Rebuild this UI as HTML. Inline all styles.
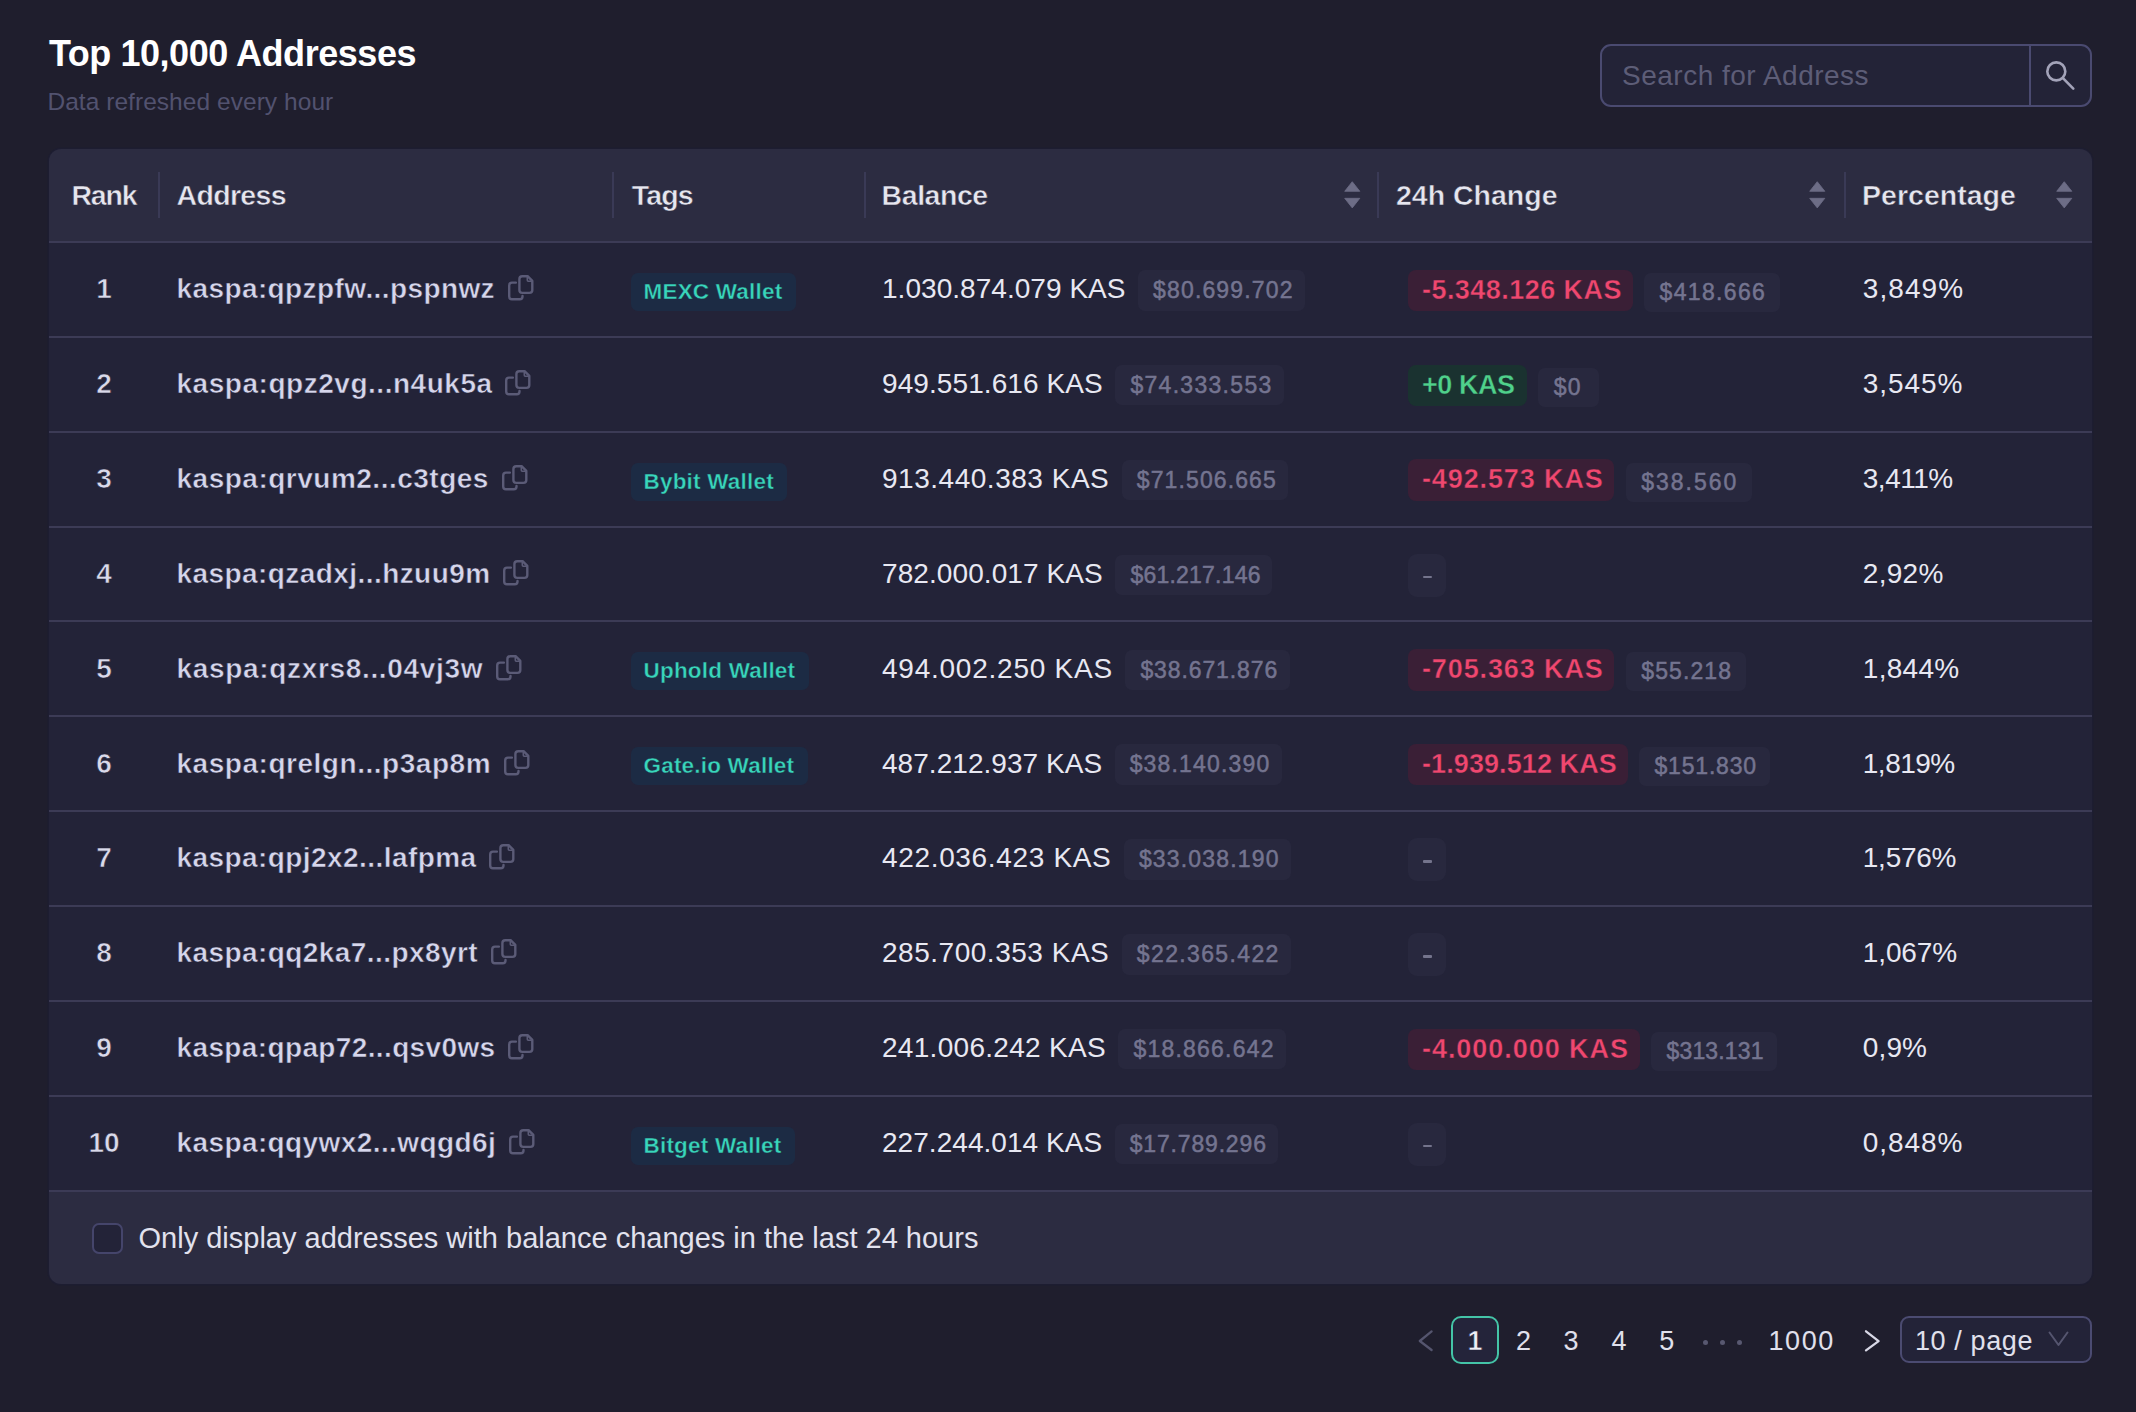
<!DOCTYPE html>
<html><head><meta charset="utf-8"><title>Top 10,000 Addresses</title><style>
*{margin:0;padding:0;box-sizing:border-box}
html,body{width:2136px;height:1412px;overflow:hidden;background:#1f1e2d;font-family:"Liberation Sans",sans-serif}
.t,.abs{position:absolute;white-space:nowrap}
.c{text-align:center}
.search{position:absolute;left:1599.5px;top:43.5px;width:492px;height:63px;border:2px solid #4a4a70;border-radius:11px;background:#232337}
.sdiv{position:absolute;left:427.5px;top:0;width:2px;height:100%;background:#4a4a70}
.tbl{position:absolute;left:49px;top:149px;width:2042.5px;height:1134.5px;border-radius:12px;background:#2c2c41;box-shadow:0 0 0 1.5px #1d1d31}
.tbody{position:absolute;left:49px;top:243px;width:2042.5px;height:947px;background:#232338}
.vsep{position:absolute;top:172px;height:46px;width:2px;background:#3a3a56}
.hsep{position:absolute;left:49px;width:2042.5px;height:2px;background:#3c3b56}
.cp{position:absolute;left:calc(100% + 11.6px);top:-1px;width:28px;height:28px}
.cp svg{display:block}
.tag{position:absolute;left:631px;height:38px;padding:0 13.5px 0 12.5px;border-radius:7px;background:#1c2b44;color:#38d6bb;font-size:22.5px;line-height:38px;font-weight:700;letter-spacing:0.2px;white-space:nowrap;-webkit-text-stroke:0.4px #1c2b44}
.usd{position:absolute;left:calc(100% + 12.5px);top:-5.2px;height:40.5px;line-height:40.5px;padding:0 11.5px 0 15px;border-radius:7px;background:#28283e;color:#74748f;font-size:23px;font-weight:400;letter-spacing:1.15px;white-space:nowrap;-webkit-text-stroke:0.5px #757592}
.chg{position:absolute;left:1408px;height:41.5px;line-height:41.5px;padding:0 10.8px 0 14px;border-radius:8px;font-size:27px;font-weight:700;letter-spacing:0.45px;white-space:nowrap}
.neg{background:#3a1f36;color:#f0476f;-webkit-text-stroke:0.4px #3a1f36}
.pos{background:#1a3230;color:#4fd18b;-webkit-text-stroke:0.4px #1a3230;letter-spacing:-0.45px;padding-right:12.4px}
.dash{background:#28283e;width:38px;padding:0;height:42.8px;border-radius:9px}
.dash i{position:absolute;left:14.8px;top:21.8px;width:9.2px;height:2.7px;border-radius:1px;background:#74748c}
.usd2{position:absolute;left:calc(100% + 11.3px);top:3.3px;height:39px;line-height:39px;padding:0 13.5px 0 15.5px;border-radius:7px;background:#28283e;color:#74748f;font-size:23px;font-weight:400;letter-spacing:1.2px;-webkit-text-stroke:0.5px #757592}
.cbox{position:absolute;left:91.5px;top:1222.5px;width:31px;height:31px;border:2px solid #45456b;border-radius:7px;background:#232338}
.pg1{position:absolute;left:1450.8px;top:1315.8px;width:48.2px;height:48.4px;border:2px solid #44c4a7;border-radius:10px;background:#24243a}
.sel{position:absolute;left:1900.3px;top:1316.3px;width:191.3px;height:47.2px;border:2px solid #4b4b71;border-radius:9px;background:#232338}
</style></head>
<body>
<div class="t" style="left:48.9px;top:35.52px;font-size:36px;line-height:36px;color:#ffffff;font-weight:700;letter-spacing:-0.45px;">Top 10,000 Addresses</div>
<div class="t" style="left:47.4px;top:90.26px;font-size:24.5px;line-height:24.5px;color:#52526f;font-weight:400;letter-spacing:0.05px;">Data refreshed every hour</div>
<div class="search"><div class="sdiv"></div></div>
<div class="t" style="left:1622.0px;top:62.29px;font-size:28px;line-height:28px;color:#5d5d77;font-weight:400;letter-spacing:0.5px;">Search for Address</div>
<svg class="abs" style="left:2040px;top:56px" width="40" height="40" viewBox="2040 56 40 40">
<circle cx="2056.3" cy="71.4" r="9" fill="none" stroke="#a3a3b9" stroke-width="2.6"/>
<line x1="2063.2" y1="78.3" x2="2073.3" y2="88.6" stroke="#a3a3b9" stroke-width="2.6" stroke-linecap="round"/>
</svg>
<div class="tbl"></div>
<div class="tbody"></div>
<div class="hsep" style="top:241px"></div>
<div class="t" style="left:71.4px;top:180.87px;font-size:28.5px;line-height:28.5px;color:#e6e6ef;font-weight:700;letter-spacing:-1.2px;-webkit-text-stroke:0.5px #2c2c41">Rank</div>
<div class="t" style="left:176.5px;top:180.87px;font-size:28.5px;line-height:28.5px;color:#e6e6ef;font-weight:700;letter-spacing:-0.66px;-webkit-text-stroke:0.5px #2c2c41">Address</div>
<div class="t" style="left:631.8px;top:180.87px;font-size:28.5px;line-height:28.5px;color:#e6e6ef;font-weight:700;letter-spacing:-0.87px;-webkit-text-stroke:0.5px #2c2c41">Tags</div>
<div class="t" style="left:881.6px;top:180.87px;font-size:28.5px;line-height:28.5px;color:#e6e6ef;font-weight:700;letter-spacing:-0.45px;-webkit-text-stroke:0.5px #2c2c41">Balance</div>
<div class="t" style="left:1396.0px;top:180.87px;font-size:28.5px;line-height:28.5px;color:#e6e6ef;font-weight:700;letter-spacing:0px;-webkit-text-stroke:0.5px #2c2c41">24h Change</div>
<div class="t" style="left:1862.1px;top:180.87px;font-size:28.5px;line-height:28.5px;color:#e6e6ef;font-weight:700;letter-spacing:0px;-webkit-text-stroke:0.5px #2c2c41">Percentage</div>
<div class="vsep" style="left:158.0px"></div>
<div class="vsep" style="left:612.0px"></div>
<div class="vsep" style="left:864.0px"></div>
<div class="vsep" style="left:1377.0px"></div>
<div class="vsep" style="left:1843.5px"></div>
<svg class="abs" style="left:1343.8px;top:180px" width="18" height="30" viewBox="0 0 18 30"><path d="M8.25 1.7 L15.8 11.3 L0.7 11.3 Z" fill="#6d6d86" stroke="#6d6d86" stroke-width="0.8" stroke-linejoin="round"/><path d="M0.7 18.3 L15.8 18.3 L8.25 27.9 Z" fill="#6d6d86" stroke="#6d6d86" stroke-width="0.8" stroke-linejoin="round"/></svg>
<svg class="abs" style="left:1809.3px;top:180px" width="18" height="30" viewBox="0 0 18 30"><path d="M8.25 1.7 L15.8 11.3 L0.7 11.3 Z" fill="#6d6d86" stroke="#6d6d86" stroke-width="0.8" stroke-linejoin="round"/><path d="M0.7 18.3 L15.8 18.3 L8.25 27.9 Z" fill="#6d6d86" stroke="#6d6d86" stroke-width="0.8" stroke-linejoin="round"/></svg>
<svg class="abs" style="left:2056.0px;top:180px" width="18" height="30" viewBox="0 0 18 30"><path d="M8.25 1.7 L15.8 11.3 L0.7 11.3 Z" fill="#6d6d86" stroke="#6d6d86" stroke-width="0.8" stroke-linejoin="round"/><path d="M0.7 18.3 L15.8 18.3 L8.25 27.9 Z" fill="#6d6d86" stroke="#6d6d86" stroke-width="0.8" stroke-linejoin="round"/></svg>
<div class="hsep" style="top:335.85px"></div>
<div class="t c" style="left:64px;width:80px;top:275.29px;font-size:28px;line-height:28px;color:#d9d9ea;font-weight:700;-webkit-text-stroke:0.6px #232338">1</div>
<div class="t" style="left:176.5px;top:275.29px;font-size:28px;line-height:28px;color:#d6d6ec;font-weight:700;-webkit-text-stroke:0.5px #232338;letter-spacing:0.40px">kaspa:qpzpfw...pspnwz<span class="cp"><svg width="28" height="28" viewBox="0 0 28 28" fill="none" stroke="#5b5b77" stroke-width="2.4" stroke-linejoin="round" stroke-linecap="round">
<path d="M8.9 8.6 H5 Q2.2 8.6 2.2 11.4 V22.5 Q2.2 25.3 5 25.3 H12.7 Q15.5 25.3 15.5 22.5 V21.9"/>
<path d="M15.2 2.2 H20.6 L25.3 6.9 V16.1 Q25.3 18.9 22.5 18.9 H15.2 Q12.4 18.9 12.4 16.1 V5 Q12.4 2.2 15.2 2.2 Z"/>
<path d="M20.3 2.6 V6.3 Q20.3 7.2 21.2 7.2 H24.9" stroke-width="1.6"/>
</svg></span></div>
<div class="tag" style="top:273.00px">MEXC Wallet</div>
<div class="t" style="left:882px;top:275.29px;font-size:28px;line-height:28px;color:#e8e8f2;letter-spacing:0.04px">1.030.874.079 KAS<span class="usd" style="letter-spacing:1.15px">$80.699.702</span></div>
<div class="chg neg" style="top:269.70px;letter-spacing:0.45px;">-5.348.126 KAS<span class="usd2" style="letter-spacing:1.35px">$418.666</span></div>
<div class="t" style="left:1862.8px;top:275.29px;font-size:28px;line-height:28px;color:#e8e8f2;font-weight:400;letter-spacing:1.08px;">3,849%</div>
<div class="hsep" style="top:430.70px"></div>
<div class="t c" style="left:64px;width:80px;top:370.14px;font-size:28px;line-height:28px;color:#d9d9ea;font-weight:700;-webkit-text-stroke:0.6px #232338">2</div>
<div class="t" style="left:176.5px;top:370.14px;font-size:28px;line-height:28px;color:#d6d6ec;font-weight:700;-webkit-text-stroke:0.5px #232338;letter-spacing:0.53px">kaspa:qpz2vg...n4uk5a<span class="cp"><svg width="28" height="28" viewBox="0 0 28 28" fill="none" stroke="#5b5b77" stroke-width="2.4" stroke-linejoin="round" stroke-linecap="round">
<path d="M8.9 8.6 H5 Q2.2 8.6 2.2 11.4 V22.5 Q2.2 25.3 5 25.3 H12.7 Q15.5 25.3 15.5 22.5 V21.9"/>
<path d="M15.2 2.2 H20.6 L25.3 6.9 V16.1 Q25.3 18.9 22.5 18.9 H15.2 Q12.4 18.9 12.4 16.1 V5 Q12.4 2.2 15.2 2.2 Z"/>
<path d="M20.3 2.6 V6.3 Q20.3 7.2 21.2 7.2 H24.9" stroke-width="1.6"/>
</svg></span></div>
<div class="t" style="left:882px;top:370.14px;font-size:28px;line-height:28px;color:#e8e8f2;letter-spacing:0.09px">949.551.616 KAS<span class="usd" style="letter-spacing:1.30px">$74.333.553</span></div>
<div class="chg pos" style="top:364.55px;">+0 KAS<span class="usd2" style="padding-right:17px">$0</span></div>
<div class="t" style="left:1862.8px;top:370.14px;font-size:28px;line-height:28px;color:#e8e8f2;font-weight:400;letter-spacing:0.94px;">3,545%</div>
<div class="hsep" style="top:525.55px"></div>
<div class="t c" style="left:64px;width:80px;top:464.99px;font-size:28px;line-height:28px;color:#d9d9ea;font-weight:700;-webkit-text-stroke:0.6px #232338">3</div>
<div class="t" style="left:176.5px;top:464.99px;font-size:28px;line-height:28px;color:#d6d6ec;font-weight:700;-webkit-text-stroke:0.5px #232338;letter-spacing:0.50px">kaspa:qrvum2...c3tges<span class="cp"><svg width="28" height="28" viewBox="0 0 28 28" fill="none" stroke="#5b5b77" stroke-width="2.4" stroke-linejoin="round" stroke-linecap="round">
<path d="M8.9 8.6 H5 Q2.2 8.6 2.2 11.4 V22.5 Q2.2 25.3 5 25.3 H12.7 Q15.5 25.3 15.5 22.5 V21.9"/>
<path d="M15.2 2.2 H20.6 L25.3 6.9 V16.1 Q25.3 18.9 22.5 18.9 H15.2 Q12.4 18.9 12.4 16.1 V5 Q12.4 2.2 15.2 2.2 Z"/>
<path d="M20.3 2.6 V6.3 Q20.3 7.2 21.2 7.2 H24.9" stroke-width="1.6"/>
</svg></span></div>
<div class="tag" style="top:462.70px">Bybit Wallet</div>
<div class="t" style="left:882px;top:464.99px;font-size:28px;line-height:28px;color:#e8e8f2;letter-spacing:0.52px">913.440.383 KAS<span class="usd" style="letter-spacing:1.10px">$71.506.665</span></div>
<div class="chg neg" style="top:459.40px;letter-spacing:0.88px;">-492.573 KAS<span class="usd2" style="letter-spacing:1.98px">$38.560</span></div>
<div class="t" style="left:1862.8px;top:464.99px;font-size:28px;line-height:28px;color:#e8e8f2;font-weight:400;letter-spacing:-0.5px;">3,411%</div>
<div class="hsep" style="top:620.40px"></div>
<div class="t c" style="left:64px;width:80px;top:559.84px;font-size:28px;line-height:28px;color:#d9d9ea;font-weight:700;-webkit-text-stroke:0.6px #232338">4</div>
<div class="t" style="left:176.5px;top:559.84px;font-size:28px;line-height:28px;color:#d6d6ec;font-weight:700;-webkit-text-stroke:0.5px #232338;letter-spacing:0.43px">kaspa:qzadxj...hzuu9m<span class="cp"><svg width="28" height="28" viewBox="0 0 28 28" fill="none" stroke="#5b5b77" stroke-width="2.4" stroke-linejoin="round" stroke-linecap="round">
<path d="M8.9 8.6 H5 Q2.2 8.6 2.2 11.4 V22.5 Q2.2 25.3 5 25.3 H12.7 Q15.5 25.3 15.5 22.5 V21.9"/>
<path d="M15.2 2.2 H20.6 L25.3 6.9 V16.1 Q25.3 18.9 22.5 18.9 H15.2 Q12.4 18.9 12.4 16.1 V5 Q12.4 2.2 15.2 2.2 Z"/>
<path d="M20.3 2.6 V6.3 Q20.3 7.2 21.2 7.2 H24.9" stroke-width="1.6"/>
</svg></span></div>
<div class="t" style="left:882px;top:559.84px;font-size:28px;line-height:28px;color:#e8e8f2;letter-spacing:0.09px">782.000.017 KAS<span class="usd" style="letter-spacing:0.22px">$61.217.146</span></div>
<div class="chg dash" style="top:553.85px"><i></i></div>
<div class="t" style="left:1862.8px;top:559.84px;font-size:28px;line-height:28px;color:#e8e8f2;font-weight:400;letter-spacing:0.3px;">2,92%</div>
<div class="hsep" style="top:715.25px"></div>
<div class="t c" style="left:64px;width:80px;top:654.69px;font-size:28px;line-height:28px;color:#d9d9ea;font-weight:700;-webkit-text-stroke:0.6px #232338">5</div>
<div class="t" style="left:176.5px;top:654.69px;font-size:28px;line-height:28px;color:#d6d6ec;font-weight:700;-webkit-text-stroke:0.5px #232338;letter-spacing:0.67px">kaspa:qzxrs8...04vj3w<span class="cp"><svg width="28" height="28" viewBox="0 0 28 28" fill="none" stroke="#5b5b77" stroke-width="2.4" stroke-linejoin="round" stroke-linecap="round">
<path d="M8.9 8.6 H5 Q2.2 8.6 2.2 11.4 V22.5 Q2.2 25.3 5 25.3 H12.7 Q15.5 25.3 15.5 22.5 V21.9"/>
<path d="M15.2 2.2 H20.6 L25.3 6.9 V16.1 Q25.3 18.9 22.5 18.9 H15.2 Q12.4 18.9 12.4 16.1 V5 Q12.4 2.2 15.2 2.2 Z"/>
<path d="M20.3 2.6 V6.3 Q20.3 7.2 21.2 7.2 H24.9" stroke-width="1.6"/>
</svg></span></div>
<div class="tag" style="top:652.40px">Uphold Wallet</div>
<div class="t" style="left:882px;top:654.69px;font-size:28px;line-height:28px;color:#e8e8f2;letter-spacing:0.76px">494.002.250 KAS<span class="usd" style="letter-spacing:0.89px">$38.671.876</span></div>
<div class="chg neg" style="top:649.10px;letter-spacing:0.88px;">-705.363 KAS<span class="usd2" style="letter-spacing:1.10px">$55.218</span></div>
<div class="t" style="left:1862.8px;top:654.69px;font-size:28px;line-height:28px;color:#e8e8f2;font-weight:400;letter-spacing:0.28px;">1,844%</div>
<div class="hsep" style="top:810.10px"></div>
<div class="t c" style="left:64px;width:80px;top:749.54px;font-size:28px;line-height:28px;color:#d9d9ea;font-weight:700;-webkit-text-stroke:0.6px #232338">6</div>
<div class="t" style="left:176.5px;top:749.54px;font-size:28px;line-height:28px;color:#d6d6ec;font-weight:700;-webkit-text-stroke:0.5px #232338;letter-spacing:0.53px">kaspa:qrelgn...p3ap8m<span class="cp"><svg width="28" height="28" viewBox="0 0 28 28" fill="none" stroke="#5b5b77" stroke-width="2.4" stroke-linejoin="round" stroke-linecap="round">
<path d="M8.9 8.6 H5 Q2.2 8.6 2.2 11.4 V22.5 Q2.2 25.3 5 25.3 H12.7 Q15.5 25.3 15.5 22.5 V21.9"/>
<path d="M15.2 2.2 H20.6 L25.3 6.9 V16.1 Q25.3 18.9 22.5 18.9 H15.2 Q12.4 18.9 12.4 16.1 V5 Q12.4 2.2 15.2 2.2 Z"/>
<path d="M20.3 2.6 V6.3 Q20.3 7.2 21.2 7.2 H24.9" stroke-width="1.6"/>
</svg></span></div>
<div class="tag" style="top:747.25px">Gate.io Wallet</div>
<div class="t" style="left:882px;top:749.54px;font-size:28px;line-height:28px;color:#e8e8f2;letter-spacing:0.04px">487.212.937 KAS<span class="usd" style="letter-spacing:1.17px">$38.140.390</span></div>
<div class="chg neg" style="top:743.95px;letter-spacing:0.09px;">-1.939.512 KAS<span class="usd2" style="letter-spacing:0.82px">$151.830</span></div>
<div class="t" style="left:1862.8px;top:749.54px;font-size:28px;line-height:28px;color:#e8e8f2;font-weight:400;letter-spacing:-0.5px;">1,819%</div>
<div class="hsep" style="top:904.95px"></div>
<div class="t c" style="left:64px;width:80px;top:844.39px;font-size:28px;line-height:28px;color:#d9d9ea;font-weight:700;-webkit-text-stroke:0.6px #232338">7</div>
<div class="t" style="left:176.5px;top:844.39px;font-size:28px;line-height:28px;color:#d6d6ec;font-weight:700;-webkit-text-stroke:0.5px #232338;letter-spacing:0.43px">kaspa:qpj2x2...lafpma<span class="cp"><svg width="28" height="28" viewBox="0 0 28 28" fill="none" stroke="#5b5b77" stroke-width="2.4" stroke-linejoin="round" stroke-linecap="round">
<path d="M8.9 8.6 H5 Q2.2 8.6 2.2 11.4 V22.5 Q2.2 25.3 5 25.3 H12.7 Q15.5 25.3 15.5 22.5 V21.9"/>
<path d="M15.2 2.2 H20.6 L25.3 6.9 V16.1 Q25.3 18.9 22.5 18.9 H15.2 Q12.4 18.9 12.4 16.1 V5 Q12.4 2.2 15.2 2.2 Z"/>
<path d="M20.3 2.6 V6.3 Q20.3 7.2 21.2 7.2 H24.9" stroke-width="1.6"/>
</svg></span></div>
<div class="t" style="left:882px;top:844.39px;font-size:28px;line-height:28px;color:#e8e8f2;letter-spacing:0.66px">422.036.423 KAS<span class="usd" style="letter-spacing:1.16px">$33.038.190</span></div>
<div class="chg dash" style="top:838.40px"><i></i></div>
<div class="t" style="left:1862.8px;top:844.39px;font-size:28px;line-height:28px;color:#e8e8f2;font-weight:400;letter-spacing:-0.26px;">1,576%</div>
<div class="hsep" style="top:999.80px"></div>
<div class="t c" style="left:64px;width:80px;top:939.24px;font-size:28px;line-height:28px;color:#d9d9ea;font-weight:700;-webkit-text-stroke:0.6px #232338">8</div>
<div class="t" style="left:176.5px;top:939.24px;font-size:28px;line-height:28px;color:#d6d6ec;font-weight:700;-webkit-text-stroke:0.5px #232338;letter-spacing:0.43px">kaspa:qq2ka7...px8yrt<span class="cp"><svg width="28" height="28" viewBox="0 0 28 28" fill="none" stroke="#5b5b77" stroke-width="2.4" stroke-linejoin="round" stroke-linecap="round">
<path d="M8.9 8.6 H5 Q2.2 8.6 2.2 11.4 V22.5 Q2.2 25.3 5 25.3 H12.7 Q15.5 25.3 15.5 22.5 V21.9"/>
<path d="M15.2 2.2 H20.6 L25.3 6.9 V16.1 Q25.3 18.9 22.5 18.9 H15.2 Q12.4 18.9 12.4 16.1 V5 Q12.4 2.2 15.2 2.2 Z"/>
<path d="M20.3 2.6 V6.3 Q20.3 7.2 21.2 7.2 H24.9" stroke-width="1.6"/>
</svg></span></div>
<div class="t" style="left:882px;top:939.24px;font-size:28px;line-height:28px;color:#e8e8f2;letter-spacing:0.52px">285.700.353 KAS<span class="usd" style="letter-spacing:1.36px">$22.365.422</span></div>
<div class="chg dash" style="top:933.25px"><i></i></div>
<div class="t" style="left:1862.8px;top:939.24px;font-size:28px;line-height:28px;color:#e8e8f2;font-weight:400;letter-spacing:-0.12px;">1,067%</div>
<div class="hsep" style="top:1094.65px"></div>
<div class="t c" style="left:64px;width:80px;top:1034.09px;font-size:28px;line-height:28px;color:#d9d9ea;font-weight:700;-webkit-text-stroke:0.6px #232338">9</div>
<div class="t" style="left:176.5px;top:1034.09px;font-size:28px;line-height:28px;color:#d6d6ec;font-weight:700;-webkit-text-stroke:0.5px #232338;letter-spacing:0.37px">kaspa:qpap72...qsv0ws<span class="cp"><svg width="28" height="28" viewBox="0 0 28 28" fill="none" stroke="#5b5b77" stroke-width="2.4" stroke-linejoin="round" stroke-linecap="round">
<path d="M8.9 8.6 H5 Q2.2 8.6 2.2 11.4 V22.5 Q2.2 25.3 5 25.3 H12.7 Q15.5 25.3 15.5 22.5 V21.9"/>
<path d="M15.2 2.2 H20.6 L25.3 6.9 V16.1 Q25.3 18.9 22.5 18.9 H15.2 Q12.4 18.9 12.4 16.1 V5 Q12.4 2.2 15.2 2.2 Z"/>
<path d="M20.3 2.6 V6.3 Q20.3 7.2 21.2 7.2 H24.9" stroke-width="1.6"/>
</svg></span></div>
<div class="t" style="left:882px;top:1034.09px;font-size:28px;line-height:28px;color:#e8e8f2;letter-spacing:0.29px">241.006.242 KAS<span class="usd" style="letter-spacing:1.23px">$18.866.642</span></div>
<div class="chg neg" style="top:1028.50px;letter-spacing:0.95px;">-4.000.000 KAS<span class="usd2" style="letter-spacing:0.16px">$313.131</span></div>
<div class="t" style="left:1862.8px;top:1034.09px;font-size:28px;line-height:28px;color:#e8e8f2;font-weight:400;letter-spacing:0.13px;">0,9%</div>
<div class="hsep" style="top:1189.50px"></div>
<div class="t c" style="left:64px;width:80px;top:1128.94px;font-size:28px;line-height:28px;color:#d9d9ea;font-weight:700;-webkit-text-stroke:0.6px #232338">10</div>
<div class="t" style="left:176.5px;top:1128.94px;font-size:28px;line-height:28px;color:#d6d6ec;font-weight:700;-webkit-text-stroke:0.5px #232338;letter-spacing:0.40px">kaspa:qqywx2...wqgd6j<span class="cp"><svg width="28" height="28" viewBox="0 0 28 28" fill="none" stroke="#5b5b77" stroke-width="2.4" stroke-linejoin="round" stroke-linecap="round">
<path d="M8.9 8.6 H5 Q2.2 8.6 2.2 11.4 V22.5 Q2.2 25.3 5 25.3 H12.7 Q15.5 25.3 15.5 22.5 V21.9"/>
<path d="M15.2 2.2 H20.6 L25.3 6.9 V16.1 Q25.3 18.9 22.5 18.9 H15.2 Q12.4 18.9 12.4 16.1 V5 Q12.4 2.2 15.2 2.2 Z"/>
<path d="M20.3 2.6 V6.3 Q20.3 7.2 21.2 7.2 H24.9" stroke-width="1.6"/>
</svg></span></div>
<div class="tag" style="top:1126.65px">Bitget Wallet</div>
<div class="t" style="left:882px;top:1128.94px;font-size:28px;line-height:28px;color:#e8e8f2;letter-spacing:0.04px">227.244.014 KAS<span class="usd" style="letter-spacing:0.84px">$17.789.296</span></div>
<div class="chg dash" style="top:1122.95px"><i></i></div>
<div class="t" style="left:1862.8px;top:1128.94px;font-size:28px;line-height:28px;color:#e8e8f2;font-weight:400;letter-spacing:0.94px;">0,848%</div>
<div class="cbox"></div>
<div class="t" style="left:138.5px;top:1223.75px;font-size:29px;line-height:29px;color:#e2e2ee;font-weight:400;letter-spacing:0px;">Only display addresses with balance changes in the last 24 hours</div>
<svg class="abs" style="left:1414px;top:1328px" width="24" height="26" viewBox="0 0 24 26"><path d="M17.6 3.4 L5.8 13 L17.6 22" fill="none" stroke="#55556e" stroke-width="2.3" stroke-linecap="round" stroke-linejoin="round"/></svg>
<div class="pg1"></div>
<div class="t c" style="left:1424.9px;width:100px;top:1327.64px;font-size:27px;line-height:27px;color:#eeeef6;letter-spacing:1.6px;text-indent:1.6px;font-weight:700;-webkit-text-stroke:0.6px #24243a;">1</div>
<div class="t c" style="left:1473.4px;width:100px;top:1327.64px;font-size:27px;line-height:27px;color:#e0e0ec;letter-spacing:1.6px;text-indent:1.6px;">2</div>
<div class="t c" style="left:1521.0px;width:100px;top:1327.64px;font-size:27px;line-height:27px;color:#e0e0ec;letter-spacing:1.6px;text-indent:1.6px;">3</div>
<div class="t c" style="left:1569.0px;width:100px;top:1327.64px;font-size:27px;line-height:27px;color:#e0e0ec;letter-spacing:1.6px;text-indent:1.6px;">4</div>
<div class="t c" style="left:1616.7px;width:100px;top:1327.64px;font-size:27px;line-height:27px;color:#e0e0ec;letter-spacing:1.6px;text-indent:1.6px;">5</div>
<div class="t c" style="left:1750.9px;width:100px;top:1327.64px;font-size:27px;line-height:27px;color:#e0e0ec;letter-spacing:1.6px;text-indent:1.6px;">1000</div>
<div class="abs" style="left:1702.8px;top:1339.5px;width:5.2px;height:5.2px;border-radius:50%;background:#585870"></div>
<div class="abs" style="left:1720.2px;top:1339.5px;width:5.2px;height:5.2px;border-radius:50%;background:#585870"></div>
<div class="abs" style="left:1737.0px;top:1339.5px;width:5.2px;height:5.2px;border-radius:50%;background:#585870"></div>
<svg class="abs" style="left:1860px;top:1328px" width="24" height="26" viewBox="0 0 24 26"><path d="M6 3.3 L18.6 13.1 L6 22.4" fill="none" stroke="#d8d8e6" stroke-width="2.3" stroke-linecap="round" stroke-linejoin="round"/></svg>
<div class="sel"></div>
<div class="t" style="left:1915.0px;top:1327.64px;font-size:27px;line-height:27px;color:#e0e0ec;font-weight:400;letter-spacing:0.6px;">10 / page</div>
<svg class="abs" style="left:2046px;top:1328px" width="26" height="22" viewBox="0 0 26 22"><path d="M3.5 4.5 L12.5 17 L21.5 4.5" fill="none" stroke="#55556f" stroke-width="2" stroke-linecap="round" stroke-linejoin="round"/></svg>
</body></html>
